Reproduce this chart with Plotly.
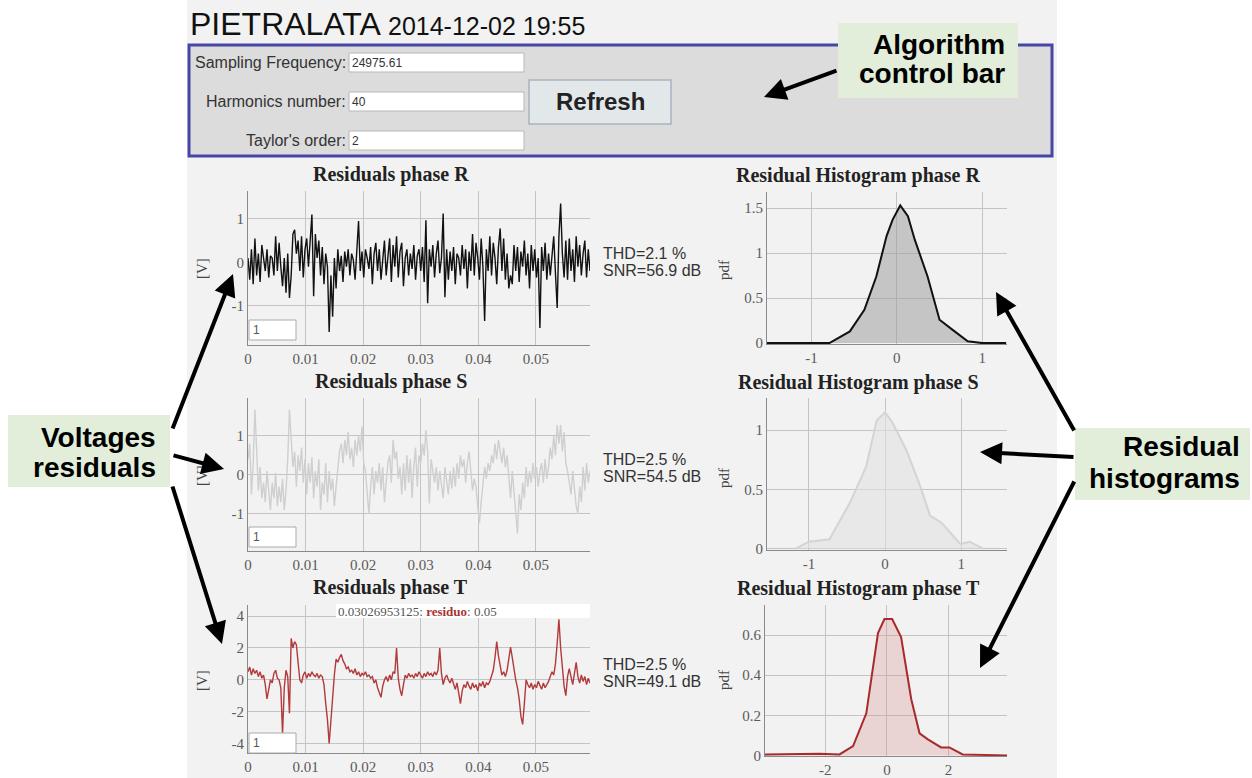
import plotly.graph_objects as go

W, H = 1252, 778

# ---------------- data ----------------
dt = 0.0003  # time step of the read-off samples [s]
res_R = [0.1, -0.4, 0.3, -0.5, 0.55, -0.3, 0.2, -0.45, 0.4, 0.05, -0.2, 0.3, -0.35, 0.15, 0.1, -0.3, 0.6, -0.2, 0.45, -0.1,
         -0.55, 0.1, -0.7, 0.2, -0.82, -0.3, 0.65, 0.75, 0.2, 0.5, -0.2, 0.6, -0.35, 0.3, 0.55, -0.1, 0.4, 1.1, -0.78, 0.65,
         0.1, 0.5, -0.3, 0.35, -0.5, 0.2, -0.1, -1.6, -0.3, -1.25, 0.1, -0.6, 0.3, -0.2, 0.15, -0.45, 0.25, -0.1, 0.3, -0.3,
         0.2, 0.05, -0.4, 0.3, 0.95, -0.2, 0.25, -0.35, 0.3, 0.1, -0.15, 0.35, -0.5, 0.2, 0.45, -0.2, 0.3, -0.4, 0.1, 0.5,
         -0.3, 0.2, 0.55, -0.45, 0.4, -0.1, 0.6, -0.35, 0.25, 0.45, -0.55, 0.1, 0.3, -0.3, 0.2, -0.15, 0.4, -0.4, 0.15, 0.3,
         -0.2, 0.35, -0.45, 0.97, -0.94, 0.3, -0.1, 0.4, -0.35, 0.2, 0.5, -0.25, 0.1, 1.12, -0.8, 0.3, -0.4, 0.25, -0.2, 0.35,
         -0.5, 0.2, 0.1, -0.3, 0.4, -0.15, 0.3, -0.6, 0.25, -0.2, 0.65, -0.3, 0.45, 0.1, -0.4, 0.55, -0.1, -1.35, 0.3, -0.2,
         0.6, -0.3, 0.45, 0.1, -0.5, 0.35, 0.78, -0.2, 0.55, -0.4, 0.2, -0.6, -0.3, -0.5, 0.4, -0.2, 0.35, -0.45, 0.25, -0.1,
         0.5, -0.3, 0.2, -0.6, 0.4, -0.2, 0.3, -0.35, 0.1, -1.51, 0.35, -0.2, 0.45, -0.4, 0.2, -0.3, 0.1, 0.6, -0.25, -1.05,
         0.6, 1.35, 0.2, -0.35, 0.5, -0.4, 0.55, -0.2, 0.3, -0.45, 0.6, -0.1, 0.4, -0.3, 0.2, 0.5, -0.35, 0.3, -0.2, 0.1]
res_S = [0.4, 0.8, -0.5, 0.3, 1.67, 0.7, -0.4, 0.2, -0.6, -0.2, -0.7, 0.1, -0.5, -0.9, -0.2, -0.6, 0.05, -0.8, -0.3, -0.7,
         -0.1, -0.9, -0.4, 0.4, 1.67, 0.9, 0.2, 0.6, -0.3, 0.5, 0.1, 0.7, -0.2, 0.4, -0.5, 0.3, -0.2, 0.45, -0.6, 0.1,
         -0.3, 0.4, -0.9, -0.2, -0.5, 0.3, -0.7, 0.1, -0.4, -0.1, -0.8, -0.3, 0.2, 0.6, 0.8, 0.3, 0.9, 0.5, 1.1, 0.4,
         0.7, 0.2, 0.9, 0.5, 1.0, 0.6, 1.24, 0.3, 0.1, -0.6, -1.0, -0.3, 0.2, -0.5, 0.1, -0.2, 0.3, -0.4, 0.2, -0.7,
         -0.1, 0.3, 0.5, -0.2, 0.9, 0.4, 0.6, -0.1, 0.2, -0.5, 0.3, -0.4, 0.5, -0.2, 0.4, -0.6, 0.2, 0.7, -0.3, 0.5,
         0.3, 0.8, 0.5, 1.15, 0.6, -0.73, 0.4, 0.1, -0.2, 0.2, -0.4, 0.1, -0.3, -0.6, 0.2, -0.2, -0.5, 0.1, -0.35, 0.2,
         -0.3, 0.3, -0.1, 0.5, 0.2, 0.4, -0.2, 0.3, 0.6, 0.1, -0.4, -0.1, -0.3, -0.8, -1.24, -0.7, -0.3, 0.2, -0.1, 0.3,
         0.1, 0.5, 0.3, 0.8, 0.4, 0.9, 0.6, 0.3, 0.7, 0.2, 0.5, -0.2, -0.6, 0.1, -0.4, -0.8, -1.5, -0.5, -0.9, -0.2,
         -0.6, 0.2, -0.3, 0.1, -0.2, 0.3, -0.1, 0.2, -0.3, 0.1, 0.3, -0.2, 0.4, -0.1, 0.2, 0.7, 0.4, 1.0, 0.5, 1.28,
         0.8, 1.28, 0.6, 1.1, 0.3, 0.1, -0.2, -0.5, 0.1, -0.4, -0.8, -1.0, -0.3, -0.7, 0.2, -0.4, 0.3, -0.2, 0.1, -0.1]
res_T = [0.5, 0.8, 0.3, 0.7, 0.4, 0.6, 0.2, 0.5, 0.1, 0.3, -0.3, -1.2, -0.6, 0.0, -0.2, 0.4, 0.6, 0.1, 0.0, -0.5,
         -3.4, -0.5, 0.6, 0.2, -2.1, 2.6, 2.0, 2.4, 2.2, 1.0, 0.0, -0.2, 0.3, 0.5, 0.1, 0.4, 0.2, 0.5, 0.3, 0.2,
         0.4, 0.1, 0.3, 0.2, -0.3, -1.5, -2.5, -4.0, -2.5, -0.8, 0.3, 1.3, 1.1, 1.4, 1.6, 1.2, 1.0, 0.7, 0.8, 0.5,
         0.6, 0.4, 0.7, 0.3, 0.5, 0.2, 0.4, 0.3, 0.5, 0.2, 0.3, 0.1, 0.2, -0.2, 0.0, -0.5, -0.8, -1.1, -0.4, 0.0,
         0.2, -0.1, 0.3, 0.0, 0.5, 0.4, 2.0, 0.1, -0.6, -1.0, -0.3, 0.3, 0.1, 0.4, 0.2, 0.3, 0.1, 0.4, 0.2, 0.5,
         0.3, 0.1, 0.4, 0.2, 0.5, 0.3, 0.4, 0.2, 0.5, 0.3, 0.6, 2.0, 0.4, -0.3, 0.1, 0.3, 0.0, -0.2, 0.1, -0.3,
         -0.6, -0.2, -0.9, -1.5, -0.7, -0.3, -0.5, -0.1, -0.4, -0.6, -0.2, -0.5, -0.3, -0.7, -0.2, -0.4, -0.1, -0.5, -0.2, -0.3,
         -0.1, 0.3, 0.6, 1.4, 2.4, 1.5, 0.9, 0.3, 0.5, 0.2, 0.6, 1.3, 2.05, 1.4, 0.6, 0.0, -0.5, -1.2, -2.3, -2.8,
         -1.5, 0.0, -0.3, -0.5, -0.2, -0.6, -0.3, -0.5, -0.1, -0.4, -0.6, -0.2, -0.5, -0.3, -0.1, 0.2, 0.5, 0.3, 1.0, 2.3,
         3.8, 2.0, 0.6, -0.4, -1.0, 0.2, 0.7, 0.1, -0.3, 0.4, 1.1, 0.2, -0.2, 0.3, -0.1, 0.2, -0.3, 0.1, -0.2, 0.0]

hist_R_x = [-1.52, -0.79, -0.55, -0.38, -0.24, -0.12, -0.05, 0.04, 0.13, 0.21, 0.36, 0.50, 0.65, 0.83, 1.0, 1.28]
hist_R_y = [0.0, 0.0, 0.13, 0.37, 0.74, 1.19, 1.37, 1.53, 1.41, 1.15, 0.74, 0.26, 0.15, 0.02, 0.0, 0.0]
hist_S_x = [-1.18, -1.0, -0.73, -0.46, -0.25, -0.11, 0.0, 0.1, 0.28, 0.46, 0.59, 0.74, 0.99, 1.11, 1.29]
hist_S_y = [0.0, 0.06, 0.08, 0.39, 0.69, 1.08, 1.15, 1.06, 0.83, 0.53, 0.28, 0.22, 0.04, 0.06, 0.0]
hist_T_x = [-3.97, -2.18, -1.54, -1.1, -0.67, -0.29, -0.08, 0.17, 0.46, 0.79, 1.06, 1.33, 1.76, 2.03, 2.46, 3.9]
hist_T_y = [0.005, 0.008, 0.005, 0.046, 0.21, 0.61, 0.68, 0.68, 0.59, 0.28, 0.11, 0.08, 0.04, 0.04, 0.005, 0.0]

phases = ["R", "S", "T"]
thd = ["2.1", "2.5", "2.5"]
snr = ["56.9", "54.5", "49.1"]
time_ticks = [0, 0.01, 0.02, 0.03, 0.04, 0.05]
time_tick_text = ["0", "0.01", "0.02", "0.03", "0.04", "0.05"]
ts_ticks = [[-1, 0, 1], [-1, 0, 1], [-4, -2, 0, 2, 4]]
ts_tick_text = [["-1", "0", "1"], ["-1", "0", "1"], ["-4", "-2", "0", "2", "4"]]
h_xticks = [[-1, 0, 1], [-1, 0, 1], [-2, 0, 2]]
h_xtick_text = [["-1", "0", "1"], ["-1", "0", "1"], ["-2", "0", "2"]]
h_yticks = [[0, 0.5, 1, 1.5], [0, 0.5, 1], [0, 0.2, 0.4, 0.6]]
h_ytick_text = [["0", "0.5", "1", "1.5"], ["0", "0.5", "1"], ["0", "0.2", "0.4", "0.6"]]

# ---------------- helpers ----------------
def fx(px):
    return px / W

def fy(py):
    return 1 - py / H

fig = go.Figure()
t = [i * dt for i in range(len(res_R))]

line_cols = ["#111111", "#cfcfcf", "#b23a3a"]
fill_cols = ["rgba(160,160,160,0.55)", "rgba(225,225,225,0.6)", "rgba(215,140,140,0.3)"]
hist_line = ["#111111", "#d4d4d4", "#a82a2a"]

series = [res_R, res_S, res_T]
hx = [hist_R_x, hist_S_x, hist_T_x]
hy = [hist_R_y, hist_S_y, hist_T_y]

# pixel geometry
ts_y = [(191, 345), (398, 551), (605, 753)]
ts_yrange = [(-1.9, 1.64), (-1.95, 1.97), (-4.6, 4.7)]
h_y = [(192, 344), (398, 550), (605, 756)]
h_xdom = [(767, 1007), (767, 1007), (765, 1007)]
h_xrange = [(-1.52, 1.29), (-1.55, 1.6), (-3.96, 3.9)]
h_yrange = [(-0.01, 1.68), (-0.01, 1.27), (-0.003, 0.75)]

tickfont = dict(family="Liberation Serif", size=15, color="#5a5a5a")
axcommon = dict(showgrid=True, gridcolor="#c4c4c4", gridwidth=1, zeroline=False,
                showline=True, linecolor="#8a8a8a", linewidth=1, ticks="",
                tickfont=tickfont, fixedrange=True, automargin=False)

layout_axes = {}
for k in range(3):
    n_ts = 2 * k + 1
    n_h = 2 * k + 2
    fig.add_trace(go.Scatter(x=t, y=series[k], mode="lines",
                             line=dict(color=line_cols[k], width=1.4),
                             xaxis=f"x{n_ts}", yaxis=f"y{n_ts}", showlegend=False))
    fig.add_trace(go.Scatter(x=hx[k], y=hy[k], mode="lines", fill="tozeroy",
                             fillcolor=fill_cols[k], line=dict(color=hist_line[k], width=2),
                             xaxis=f"x{n_h}", yaxis=f"y{n_h}", showlegend=False))
    y0, y1 = ts_y[k]
    layout_axes[f"xaxis{n_ts}"] = dict(axcommon, domain=[fx(248), fx(590)], range=[0, 0.0594],
                                       tickvals=time_ticks, ticktext=time_tick_text,
                                       anchor=f"y{n_ts}", mirror=False)
    layout_axes[f"yaxis{n_ts}"] = dict(axcommon, domain=[fy(y1), fy(y0)], range=list(ts_yrange[k]),
                                       tickvals=ts_ticks[k], ticktext=ts_tick_text[k], anchor=f"x{n_ts}")
    hy0, hy1 = h_y[k]
    xd0, xd1 = h_xdom[k]
    layout_axes[f"xaxis{n_h}"] = dict(axcommon, domain=[fx(xd0), fx(xd1)], range=list(h_xrange[k]),
                                      tickvals=h_xticks[k], ticktext=h_xtick_text[k], anchor=f"y{n_h}")
    layout_axes[f"yaxis{n_h}"] = dict(axcommon, domain=[fy(hy1), fy(hy0)], range=list(h_yrange[k]),
                                      tickvals=h_yticks[k], ticktext=h_ytick_text[k], anchor=f"x{n_h}")

shapes = []
annotations = []

def rect(x0, y0, x1, y1, fill, line_col=None, lw=0, layer="below"):
    shapes.append(dict(type="rect", xref="paper", yref="paper",
                       x0=fx(x0), x1=fx(x1), y0=fy(y1), y1=fy(y0),
                       fillcolor=fill, line=dict(color=line_col or fill, width=lw), layer=layer))

def text(x, y, s, size=14, color="#333333", family="Arial", xanchor="left", yanchor="middle", textangle=0):
    annotations.append(dict(xref="paper", yref="paper", x=fx(x), y=fy(y), text=s, showarrow=False,
                            font=dict(size=size, color=color, family=family),
                            xanchor=xanchor, yanchor=yanchor, textangle=textangle, borderpad=0))

def arrow(x_tail, y_tail, x_head, y_head):
    annotations.append(dict(xref="paper", yref="paper", axref="pixel", ayref="pixel",
                            x=fx(x_head), y=fy(y_head), ax=x_tail - x_head, ay=y_tail - y_head,
                            text="", showarrow=True, arrowhead=2, arrowsize=1.1, arrowwidth=4,
                            arrowcolor="#000000", standoff=0))

# page background
rect(187, 0, 1057, 778, "#f2f2f2")
# control bar
rect(189, 45, 1052, 156, "#dcdcdc", "#4646a6", 3)
# input boxes
for yy in (53, 92, 131):
    rect(349, yy, 524, yy + 19, "#ffffff", "#b8b8b8", 1)
# refresh button
shapes.append(dict(type="rect", xref="paper", yref="paper", x0=fx(529), x1=fx(671), y0=fy(124), y1=fy(80),
                   fillcolor="#e2e7ea", line=dict(color="#a8b4c0", width=1.5), layer="below"))
text(600, 102, "<b>Refresh</b>", size=24, color="#222222", xanchor="center")

text(347, 62, "Sampling Frequency:", 16, "#333333", xanchor="right")
text(347, 101, "Harmonics number:", 16, "#333333", xanchor="right")
text(347, 140, "Taylor's order:", 16, "#333333", xanchor="right")
text(351, 63, "24975.61", 12, "#333333")
text(351, 102, "40", 12, "#333333")
text(351, 141, "2", 12, "#333333")

# page title
text(189, 24, "PIETRALATA <span style='font-size:25px'>2014-12-02 19:55</span>", 32, "#111111")

# per-phase decorations
ts_title_y = [174, 381, 587]
h_title_y = [175, 382, 588]
unit_y = [268, 475, 680]
pdf_y = [270, 478, 680]
thd_y = [253, 459, 664]
inp_y = [(320, 340), (527, 547), (733, 753)]
for k in range(3):
    text(391, ts_title_y[k], f"<b>Residuals phase {phases[k]}</b>", 20, "#222222", "Liberation Serif", "center")
    text(858, h_title_y[k], f"<b>Residual Histogram phase {phases[k]}</b>", 20, "#222222", "Liberation Serif", "center")
    text(202, unit_y[k], "[V]", 15, "#444444", "Liberation Serif", "center", textangle=-90)
    text(724, pdf_y[k], "pdf", 15, "#444444", "Liberation Serif", "center", textangle=-90)
    text(602, thd_y[k], f"THD={thd[k]} %", 16, "#333333")
    text(602, thd_y[k] + 17, f"SNR={snr[k]} dB", 16, "#333333")
    a, b = inp_y[k]
    shapes.append(dict(type="rect", xref="paper", yref="paper", x0=fx(249), x1=fx(296), y0=fy(b), y1=fy(a),
                       fillcolor="#ffffff", line=dict(color="#aaaaaa", width=1), layer="above"))
    text(252, (a + b) / 2, "1", 12, "#555555")

# hover readout on phase T
shapes.append(dict(type="rect", xref="paper", yref="paper", x0=fx(336), x1=fx(590), y0=fy(618), y1=fy(604),
                   fillcolor="#ffffff", line=dict(width=0), layer="above"))
text(337, 611, "0.03026953125: <b><span style='color:#a83232'>residuo</span></b>: 0.05", 13, "#555555",
     "Liberation Serif")

# callout boxes (text right-aligned inside)
rect(838, 23, 1018, 98, "#e2eed9", layer="above")
text(1006, 44, "<b>Algorithm</b>", 28, "#000000", xanchor="right")
text(1006, 74, "<b>control bar</b>", 28, "#000000", xanchor="right")
rect(8, 415, 170, 487, "#e2eed9", layer="above")
text(157, 437, "<b>Voltages</b>", 28, "#000000", xanchor="right")
text(157, 467, "<b>residuals</b>", 28, "#000000", xanchor="right")
rect(1075, 428, 1250, 500, "#e2eed9", layer="above")
text(1241, 447, "<b>Residual</b>", 28, "#000000", xanchor="right")
text(1241, 478, "<b>histograms</b>", 28, "#000000", xanchor="right")

# arrows
arrow(838, 70, 764, 97)
arrow(172, 430, 233, 274)
arrow(172, 455, 224, 469)
arrow(172, 485, 222, 644)
arrow(1075, 432, 996, 292)
arrow(1075, 457, 980, 452)
arrow(1075, 480, 980, 668)

fig.update_layout(width=W, height=H, margin=dict(l=0, r=0, t=0, b=0, pad=0),
                  paper_bgcolor="#ffffff", plot_bgcolor="rgba(0,0,0,0)",
                  shapes=shapes, annotations=annotations, showlegend=False, hovermode=False,
                  **layout_axes)

fig.write_html("out.html", config={"displayModeBar": False},
               post_script="document.body.style.margin='0px';document.body.style.overflow='hidden';")
